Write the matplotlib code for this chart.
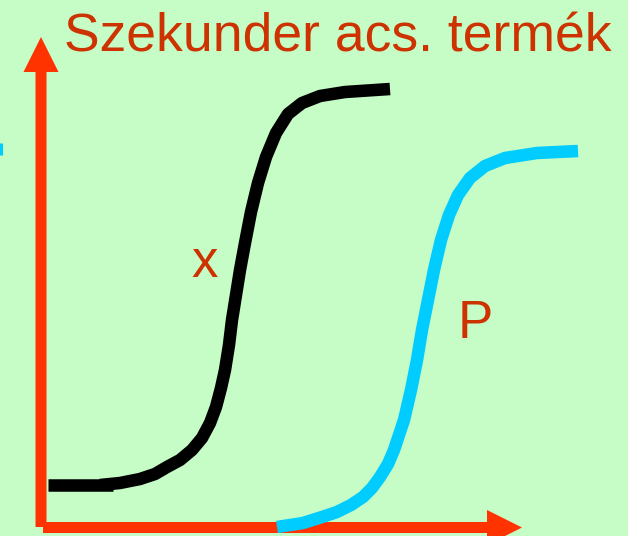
import matplotlib
matplotlib.use("Agg")
import matplotlib.pyplot as plt

# schematic growth curves (units ~ pixels from the origin of the axes)
x_flat = [7, 72]
y_flat = [42.5, 42.5]

x_biomass = [59, 79, 99, 114, 126, 139, 151, 161, 169, 175, 180, 184, 188, 191, 195,
             199, 204, 210, 217, 225, 235, 247, 261, 279, 304, 349]
y_biomass = [42, 44, 48, 53, 60, 67, 77, 89, 104, 120, 139, 157, 182, 207, 232,
             257, 284, 315, 344, 370, 394, 413, 424, 431, 435, 438]

x_product = [236, 262, 281, 296, 310, 322, 331, 339, 347, 353, 363, 370, 376, 381,
             387, 393, 400, 408, 417, 429, 444, 464, 496, 537]
y_product = [0, 4, 10, 15, 22, 30, 39, 50, 63, 77, 107, 137, 167, 197,
             227, 257, 287, 312, 332, 349, 361, 369, 374, 376]

title = "Szekunder acs. termék"
label_x = "x"
label_p = "P"

bg = "#c6fcc6"
axis_col = "#ff3300"
text_col = "#cc3300"
font = "Liberation Sans"

fig = plt.figure(figsize=(6.28, 5.36), dpi=100)
fig.patch.set_facecolor(bg)
ax = fig.add_axes([0, 0, 1, 1])
ax.set_facecolor(bg)
ax.set_xlim(-41, 587)
ax.set_ylim(-9, 527)
ax.axis("off")

# axes arrows
ax.arrow(0, 0, 0, 490, width=11, head_width=35, head_length=35,
         length_includes_head=True, color=axis_col, lw=0, zorder=1)
ax.arrow(2, -0.5, 479, 0, width=11, head_width=35, head_length=35,
         length_includes_head=True, color=axis_col, lw=0, zorder=1)

# curves
ax.plot(x_flat, y_flat, color="black", lw=9, solid_capstyle="butt", zorder=3)
ax.plot(x_biomass, y_biomass, color="black", lw=9, solid_capstyle="butt",
        solid_joinstyle="round", zorder=3)
ax.plot(x_product, y_product, color="#00ccff", lw=9, solid_capstyle="butt",
        solid_joinstyle="round", zorder=3)

# little cyan sliver at the left edge
ax.plot([-40, -40], [372, 384], color="#00ccff", lw=2.2, solid_capstyle="butt")

ax.text(23, 476, title, color=text_col, fontsize=38.5, family=font,
        ha="left", va="baseline")
ax.text(164, 264, label_x, color=text_col, fontsize=38, family=font,
        ha="center", va="center")
ax.text(434, 203, label_p, color=text_col, fontsize=38, family=font,
        ha="center", va="center")

fig.savefig("out.png", dpi=100, facecolor=bg)
